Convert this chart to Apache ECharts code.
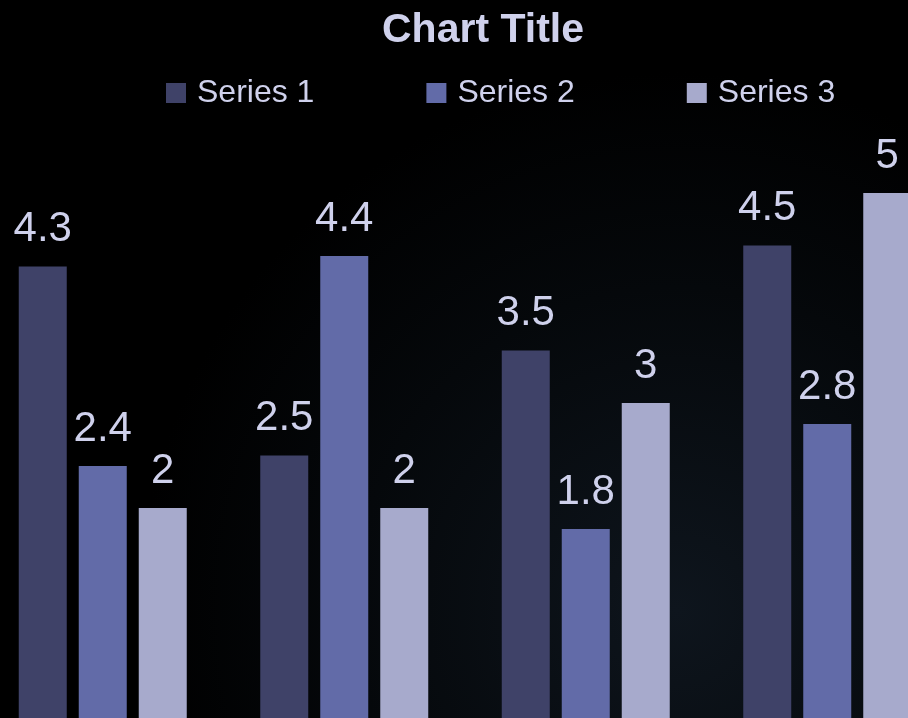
<!DOCTYPE html>
<html><head><meta charset="utf-8">
<script src="https://cdn.jsdelivr.net/npm/echarts@6/dist/echarts.min.js"></script>
<style>html,body{margin:0;padding:0;background:#000;overflow:hidden;width:908px;height:718px;position:relative;}
#c{position:absolute;left:-18px;top:0;width:966px;height:718px;}</style>
</head><body><div id="c"></div>
<script>
const categories = ["Category 1", "Category 2", "Category 3", "Category 4"];
const series1 = [4.3, 2.5, 3.5, 4.5];
const series2 = [2.4, 4.4, 1.8, 2.8];
const series3 = [2, 2, 3, 5];
const seriesNames = ["Series 1", "Series 2", "Series 3"];
const colors = ["#3f4268", "#626ba8", "#a7aacc"];
const textColor = "#cfd1ec";
const font = "'Liberation Sans', Arial, sans-serif";

const chart = echarts.init(document.getElementById('c'));
const mk = (name, data, color) => ({
  name, type: 'bar', data, barWidth: 48, barGap: '25%',
  itemStyle: { color },
  label: { show: true, position: 'top', distance: 16, color: textColor, fontSize: 42, fontFamily: font }
});
chart.setOption({
  backgroundColor: {
    type: 'radial', x: 0.72, y: 0.85, r: 0.75,
    colorStops: [{ offset: 0, color: '#0e151d' }, { offset: 0.6, color: '#05080b' }, { offset: 1, color: '#000000' }]
  },
  title: { text: 'Chart Title', left: 496, textAlign: 'center', top: 5, textStyle: { color: textColor, fontSize: 41, fontWeight: 'bold', fontFamily: font } },
  legend: {
    data: seriesNames, left: 184, top: 77, padding: 0, itemWidth: 20, itemHeight: 20, itemGap: 112,
    icon: 'rect',
    textStyle: { color: textColor, fontSize: 32, fontFamily: font, width: 116, padding: [0, 0, 0, 6] }
  },
  grid: { left: 0, right: 0, top: 88, bottom: 0, containLabel: false },
  xAxis: { type: 'category', data: categories, show: false },
  yAxis: { type: 'value', min: 0, max: 6, show: false },
  series: [mk(seriesNames[0], series1, colors[0]), mk(seriesNames[1], series2, colors[1]), mk(seriesNames[2], series3, colors[2])]
});
</script></body></html>
